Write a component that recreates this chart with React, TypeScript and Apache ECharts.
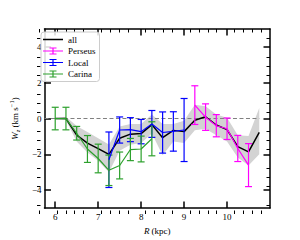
import React, { useEffect, useRef } from "react";
import * as echarts from "echarts";

const R_ALL = [6.0, 6.25, 6.5, 6.75, 7.0, 7.25, 7.5, 7.75, 8.0, 8.25, 8.5, 8.75, 9.0, 9.25, 9.5, 9.75, 10.0, 10.25, 10.5, 10.75];
const W_ALL = [0.0, 0.0, -0.93, -1.37, -1.68, -2.0, -1.1, -0.87, -0.84, -0.34, -1.07, -0.66, -0.73, -0.09, 0.1, -0.36, -0.62, -1.57, -1.86, -0.77];
const BAND_LO = [0.0, -0.1, -1.28, -1.9, -2.35, -3.0, -1.8, -1.46, -1.37, -0.84, -2.05, -1.28, -1.37, -0.66, -0.57, -0.93, -1.28, -2.17, -2.62, -2.0];
const BAND_HI = [0.0, 0.1, -0.42, -0.75, -1.1, -1.45, -0.45, -0.3, -0.3, 0.23, -0.3, -0.3, -0.12, 0.77, 0.68, 0.23, 0.05, -0.93, -0.98, 0.59];

const R_PERSEUS = [9.25, 9.5, 9.75, 10.0, 10.25, 10.5];
const W_PERSEUS = [0.75, 0.08, -0.4, -0.57, -1.67, -2.6];
const E_PERSEUS = [1.08, 0.74, 0.62, 0.6, 0.73, 1.2];

const R_LOCAL = [7.25, 7.5, 7.75, 8.0, 8.25, 8.5, 8.75, 9.0];
const W_LOCAL = [-2.3, -0.64, -0.62, -0.73, -0.3, -0.78, -0.72, -0.64];
const E_LOCAL = [1.55, 0.73, 0.67, 0.68, 0.75, 1.15, 1.1, 1.76];

const R_CARINA = [6.0, 6.25, 6.5, 6.75, 7.0, 7.25, 7.5, 7.75, 8.0, 8.25];
const W_CARINA = [0.0, 0.0, -0.82, -1.7, -2.23, -2.89, -2.62, -1.73, -1.7, -1.13];
const E_CARINA = [0.63, 0.63, 0.38, 0.75, 0.8, 0.85, 0.75, 0.62, 0.72, 0.95];

const X_MAJOR = [6, 7, 8, 9, 10];
const X_MINOR = [5.8, 6.2, 6.4, 6.6, 6.8, 7.2, 7.4, 7.6, 7.8, 8.2, 8.4, 8.6, 8.8, 9.2, 9.4, 9.6, 9.8, 10.2, 10.4, 10.6, 10.8];
const Y_MAJOR = [-4, -2, 0, 2, 4];
const Y_MINOR = [-4.5, -3.5, -3, -2.5, -1.5, -1, -0.5, 0.5, 1, 1.5, 2.5, 3, 3.5, 4.5];

const X_MIN = 5.75, X_MAX = 11;
const Y_MIN = -5, Y_MAX = 5;

const FONT = "Liberation Serif";
const C_PERSEUS = "#ff00ff";
const C_LOCAL = "#0000ff";
const C_CARINA = "#2ca02c";

const ERR_ICON = "path://M0 2.9H20V4.1H0Z M9.4 0H10.6V7H9.4Z M6.5 0H13.5V1.1H6.5Z M6.5 5.9H13.5V7H6.5Z";
const LINE_ICON = "path://M0 2.75H20V4.25H0Z M0 0H0.01V0.01H0Z M0 6.99H0.01V7H0Z";

function errRender(color: string) {
  return (params: any, api: any) => {
    const x = api.value(0), y = api.value(1), e = api.value(2);
    const top = api.coord([x, y + e]);
    const bot = api.coord([x, y - e]);
    const cw = 3.5;
    const style = { stroke: color, lineWidth: 1.2, fill: null };
    return {
      type: "group",
      children: [
        { type: "line", shape: { x1: top[0], y1: top[1], x2: bot[0], y2: bot[1] }, style },
        { type: "line", shape: { x1: top[0] - cw, y1: top[1], x2: top[0] + cw, y2: top[1] }, style },
        { type: "line", shape: { x1: bot[0] - cw, y1: bot[1], x2: bot[0] + cw, y2: bot[1] }, style },
      ],
    };
  };
}

function makeX(gridIndex: number, position: string, major: boolean, labels: boolean) {
  const ax: any = {
    gridIndex,
    type: "value",
    min: X_MIN,
    max: X_MAX,
    position,
    axisLine: { show: major, onZero: false, lineStyle: { color: "#000", width: 1.5 } },
    axisTick: {
      show: true,
      inside: true,
      length: major ? 6.5 : 3.5,
      lineStyle: { color: "#000", width: major ? 1.5 : 1 },
      customValues: major ? X_MAJOR : X_MINOR,
    },
    axisLabel: labels
      ? {
          show: true,
          customValues: X_MAJOR,
          margin: 4,
          fontFamily: FONT,
          fontSize: 9,
          color: "#000",
          showMinLabel: true,
          showMaxLabel: true,
          hideOverlap: false,
        }
      : { show: false },
    splitLine: { show: false },
  };
  if (labels) {
    ax.name = "{i|R} (kpc)";
    ax.nameLocation = "middle";
    ax.nameGap = 14;
    ax.nameTextStyle = {
      fontFamily: FONT,
      fontSize: 9,
      color: "#000",
      verticalAlign: "top",
      rich: { i: { fontFamily: FONT, fontSize: 9, fontStyle: "italic", color: "#000" } },
    };
  }
  return ax;
}

function makeY(gridIndex: number, position: string, major: boolean, labels: boolean) {
  const ax: any = {
    gridIndex,
    type: "value",
    min: Y_MIN,
    max: Y_MAX,
    position,
    axisLine: { show: major, onZero: false, lineStyle: { color: "#000", width: 1.5 } },
    axisTick: {
      show: true,
      inside: true,
      length: major ? 6.5 : 3.5,
      lineStyle: { color: "#000", width: major ? 1.5 : 1 },
      customValues: major ? Y_MAJOR : Y_MINOR,
    },
    axisLabel: labels
      ? {
          show: true,
          customValues: Y_MAJOR,
          margin: 3,
          fontFamily: FONT,
          fontSize: 9,
          color: "#000",
          showMinLabel: true,
          showMaxLabel: true,
          hideOverlap: false,
          formatter: (v: number) => String(v).replace("-", "\u2212"),
        }
      : { show: false },
    splitLine: { show: false },
  };
  if (labels) {
    ax.name = "{i|W}{s|z} (km s{p|\u22121})";
    ax.nameLocation = "middle";
    ax.nameGap = 17;
    ax.nameRotate = 90;
    ax.nameTextStyle = {
      fontFamily: FONT,
      fontSize: 9,
      color: "#000",
      lineHeight: 13,
      rich: {
        i: { fontFamily: FONT, fontSize: 9, fontStyle: "italic", color: "#000", lineHeight: 13 },
        s: { fontFamily: FONT, fontSize: 6.5, fontStyle: "italic", color: "#000", verticalAlign: "bottom", lineHeight: 13 },
        p: { fontFamily: FONT, fontSize: 6.5, color: "#000", verticalAlign: "top", lineHeight: 13 },
      },
    };
  }
  return ax;
}

export default function App() {
  const ref = useRef<HTMLDivElement>(null);
  useEffect(() => {
    if (!ref.current) return;
    const chart = echarts.init(ref.current, null, { renderer: "svg" });
    const grid = { left: 37, top: 29, width: 233, height: 185 };
    const option: any = {
      animation: false,
      backgroundColor: "#fff",
      grid: [{ ...grid }, { ...grid }],
      xAxis: [
        makeX(0, "bottom", true, true),
        makeX(0, "top", true, false),
        makeX(1, "bottom", false, false),
        makeX(1, "top", false, false),
      ],
      yAxis: [
        makeY(0, "left", true, true),
        makeY(0, "right", true, false),
        makeY(1, "left", false, false),
        makeY(1, "right", false, false),
      ],
      legend: {
        orient: "vertical",
        left: 41,
        top: 32,
        itemWidth: 20,
        itemHeight: 7,
        itemGap: 2.5,
        padding: [3, 4, 3, 2],
        backgroundColor: "rgba(255,255,255,0.85)",
        borderColor: "#cccccc",
        borderWidth: 1,
        borderRadius: 3,
        textStyle: { fontFamily: FONT, fontSize: 9, color: "#000", lineHeight: 9 },
        data: [
          { name: "all", icon: LINE_ICON, itemStyle: { color: "#000" } },
          { name: "Perseus", icon: ERR_ICON },
          { name: "Local", icon: ERR_ICON },
          { name: "Carina", icon: ERR_ICON },
        ],
      },
      series: [
        {
          name: "band",
          type: "custom",
          xAxisIndex: 0,
          yAxisIndex: 0,
          z: 1,
          silent: true,
          data: R_ALL.map((r, i) => [r, BAND_LO[i], BAND_HI[i]]),
          encode: { x: 0, y: [1, 2] },
          renderItem: (params: any, api: any) => {
            if (params.dataIndex !== 0) return null;
            const pts: number[][] = [];
            for (let i = 0; i < R_ALL.length; i++) pts.push(api.coord([R_ALL[i], BAND_HI[i]]));
            for (let i = R_ALL.length - 1; i >= 0; i--) pts.push(api.coord([R_ALL[i], BAND_LO[i]]));
            return { type: "polygon", shape: { points: pts }, style: { fill: "#d3d3d3" } };
          },
        },
        {
          name: "all",
          type: "line",
          xAxisIndex: 0,
          yAxisIndex: 0,
          z: 3,
          symbol: "none",
          showSymbol: false,
          data: R_ALL.map((r, i) => [r, W_ALL[i]]),
          lineStyle: { color: "#000", width: 1.5 },
          itemStyle: { color: "#000" },
          markLine: {
            silent: true,
            symbol: "none",
            label: { show: false },
            lineStyle: { color: "#808080", type: [4, 2.5], width: 1.2 },
            data: [[{ coord: [X_MIN, 0] }, { coord: [10.75, 0] }]],
            z: 2,
          },
        },
        {
          name: "Perseus",
          type: "line",
          z: 4,
          symbol: "none",
          data: R_PERSEUS.map((r, i) => [r, W_PERSEUS[i]]),
          lineStyle: { color: C_PERSEUS, width: 1.2 },
          itemStyle: { color: C_PERSEUS },
        },
        {
          name: "Perseus",
          type: "custom",
          z: 4,
          itemStyle: { color: C_PERSEUS },
          data: R_PERSEUS.map((r, i) => [r, W_PERSEUS[i], E_PERSEUS[i]]),
          encode: { x: 0, y: 1 },
          renderItem: errRender(C_PERSEUS),
        },
        {
          name: "Local",
          type: "line",
          z: 4,
          symbol: "none",
          data: R_LOCAL.map((r, i) => [r, W_LOCAL[i]]),
          lineStyle: { color: C_LOCAL, width: 1.2 },
          itemStyle: { color: C_LOCAL },
        },
        {
          name: "Local",
          type: "custom",
          z: 4,
          itemStyle: { color: C_LOCAL },
          data: R_LOCAL.map((r, i) => [r, W_LOCAL[i], E_LOCAL[i]]),
          encode: { x: 0, y: 1 },
          renderItem: errRender(C_LOCAL),
        },
        {
          name: "Carina",
          type: "line",
          z: 4,
          symbol: "none",
          data: R_CARINA.map((r, i) => [r, W_CARINA[i]]),
          lineStyle: { color: C_CARINA, width: 1.2 },
          itemStyle: { color: C_CARINA },
        },
        {
          name: "Carina",
          type: "custom",
          z: 4,
          itemStyle: { color: C_CARINA },
          data: R_CARINA.map((r, i) => [r, W_CARINA[i], E_CARINA[i]]),
          encode: { x: 0, y: 1 },
          renderItem: errRender(C_CARINA),
        },
      ],
    };
    chart.setOption(option);
    return () => chart.dispose();
  }, []);
  return (
    <div
      ref={ref}
      style={{ position: "absolute", left: 0, top: 0, width: 300, height: 240, background: "#fff" }}
    />
  );
}
